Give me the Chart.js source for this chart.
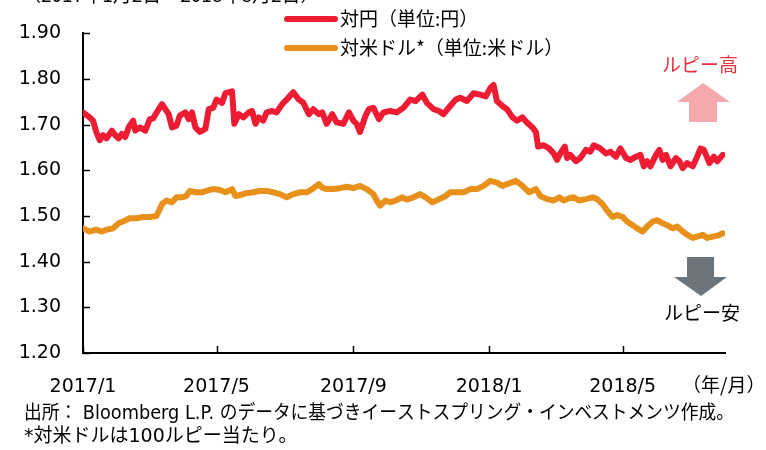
<!DOCTYPE html>
<html>
<head>
<meta charset="utf-8">
<script src="https://cdn.jsdelivr.net/npm/chart.js@4.4.1/dist/chart.umd.min.js"></script>
<style>
  html, body { margin: 0; padding: 0; background: #fff; }
  canvas { display: block; }
</style>
</head>
<body>
<canvas id="rupee" width="766" height="450"></canvas>
<script>
// x = days since 2017/1/2
const jpyDays = [0,6,9,12,15,18,21,26,29,32,35,38,41,45,47,51,56,60,63,68,71,74,77,80,84,87,92,95,98,101,105,110,113,117,120,125,128,134,136,140,144,149,152,155,158,162,165,170,174,179,183,189,194,198,203,207,212,215,219,224,228,234,239,243,246,249,254,257,261,266,270,276,282,288,294,299,305,309,315,320,324,330,335,339,345,351,357,362,366,369,372,377,381,386,390,395,399,404,407,409,414,419,423,426,429,433,435,438,443,447,452,456,459,465,470,474,479,483,488,492,497,501,504,507,510,515,518,521,524,528,533,536,539,543,548,552,555,558,563,567,570,575];
const jpyValues = [1.727,1.716,1.709,1.684,1.666,1.677,1.670,1.687,1.677,1.670,1.680,1.673,1.694,1.709,1.687,1.694,1.687,1.712,1.714,1.734,1.745,1.734,1.723,1.694,1.698,1.720,1.727,1.712,1.727,1.694,1.684,1.691,1.734,1.737,1.755,1.748,1.769,1.773,1.702,1.723,1.716,1.727,1.730,1.702,1.716,1.709,1.727,1.730,1.727,1.745,1.755,1.771,1.755,1.748,1.723,1.734,1.723,1.727,1.702,1.723,1.705,1.702,1.727,1.709,1.702,1.684,1.720,1.734,1.737,1.712,1.727,1.730,1.727,1.737,1.755,1.752,1.766,1.748,1.734,1.730,1.723,1.741,1.755,1.759,1.752,1.769,1.766,1.762,1.780,1.787,1.752,1.741,1.734,1.716,1.709,1.716,1.705,1.694,1.684,1.652,1.655,1.648,1.637,1.623,1.637,1.652,1.627,1.634,1.620,1.627,1.645,1.641,1.655,1.648,1.637,1.641,1.630,1.648,1.627,1.623,1.630,1.634,1.609,1.620,1.609,1.634,1.645,1.623,1.634,1.609,1.627,1.620,1.605,1.616,1.609,1.630,1.648,1.645,1.616,1.630,1.620,1.634];

const usdDays = [0,6,12,17,21,27,32,36,42,48,54,60,66,71,75,80,84,89,93,96,101,107,113,117,123,128,134,137,141,147,153,159,165,171,177,183,189,195,201,206,212,215,219,225,231,237,243,249,255,261,264,267,272,276,281,287,291,297,303,308,314,320,326,330,336,342,348,354,360,366,372,377,381,389,395,401,407,411,417,423,428,432,437,441,446,452,458,462,467,471,476,480,485,489,494,498,503,507,512,516,521,525,530,534,539,543,548,552,557,561,566,570,575];
const usdValues = [1.473,1.466,1.470,1.466,1.470,1.473,1.484,1.488,1.495,1.495,1.498,1.498,1.500,1.526,1.534,1.530,1.541,1.541,1.544,1.555,1.552,1.552,1.557,1.559,1.557,1.552,1.559,1.544,1.546,1.550,1.552,1.555,1.555,1.552,1.548,1.541,1.548,1.552,1.552,1.559,1.570,1.562,1.559,1.559,1.561,1.564,1.561,1.566,1.559,1.548,1.534,1.523,1.534,1.530,1.534,1.541,1.536,1.541,1.548,1.541,1.530,1.537,1.544,1.552,1.552,1.552,1.559,1.559,1.566,1.577,1.573,1.566,1.570,1.577,1.566,1.552,1.559,1.544,1.537,1.534,1.541,1.534,1.539,1.541,1.534,1.537,1.541,1.537,1.526,1.512,1.498,1.502,1.498,1.488,1.480,1.473,1.466,1.477,1.488,1.491,1.484,1.480,1.473,1.477,1.466,1.459,1.452,1.455,1.459,1.452,1.455,1.457,1.462];

const xTickDays = [0, 120, 243, 365, 485];
const xTickLabels = ['2017/1', '2017/5', '2017/9', '2018/1', '2018/5'];
const yTicks = [1.2, 1.3, 1.4, 1.5, 1.6, 1.7, 1.8, 1.9];

const seriesNames = ['対円（単位:円）', '対米ドル*（単位:米ドル）'];
const RED = '#ED1C33';
const ORANGE = '#E8901C';
const FONT = '"DejaVu Sans", "Noto Sans CJK JP", sans-serif';
const JFONT = '"Noto Sans CJK JP", sans-serif';

const toPoints = (xs, ys) => xs.map((d, i) => ({ x: d, y: ys[i] }));

const decor = {
  id: 'decor',
  afterDraw(chart) {
    const { ctx, chartArea: a, scales: { x, y } } = chart;
    ctx.save();

    // inward tick marks
    ctx.strokeStyle = '#000';
    ctx.lineWidth = 1.5;
    yTicks.forEach(v => {
      const py = Math.round(y.getPixelForValue(v)) + 0.5;
      ctx.beginPath(); ctx.moveTo(a.left, py); ctx.lineTo(a.left + 7, py); ctx.stroke();
    });
    xTickDays.forEach(d => {
      const px = Math.round(x.getPixelForValue(d)) + 0.5;
      ctx.beginPath(); ctx.moveTo(px, a.bottom); ctx.lineTo(px, a.bottom - 7); ctx.stroke();
    });

    // title (cut off at top)
    ctx.fillStyle = '#000';
    ctx.font = '19px ' + JFONT;
    ctx.textBaseline = 'alphabetic';
    ctx.textAlign = 'left';
    ctx.fillText('（2017年1月2日～2018年8月2日）', 22, 2);

    // legend
    const legendRows = [[RED, 19], [ORANGE, 48]];
    ctx.lineCap = 'round';
    ctx.lineWidth = 6;
    legendRows.forEach(([c, ly], i) => {
      ctx.strokeStyle = c;
      ctx.beginPath(); ctx.moveTo(287, ly); ctx.lineTo(335, ly); ctx.stroke();
      ctx.fillStyle = '#000';
      ctx.font = '19px ' + JFONT;
      ctx.textBaseline = 'middle';
      ctx.fillText(seriesNames[i], 340, ly);
    });

    // rupee up arrow + label
    ctx.fillStyle = '#E8303F';
    ctx.font = '19px ' + JFONT;
    ctx.textAlign = 'center';
    ctx.fillText('ルピー高', 700, 65);
    ctx.fillStyle = '#F5A7AE';
    ctx.beginPath();
    ctx.moveTo(703, 83); ctx.lineTo(730, 102); ctx.lineTo(717, 102); ctx.lineTo(717, 122);
    ctx.lineTo(689, 122); ctx.lineTo(689, 102); ctx.lineTo(677, 102); ctx.closePath();
    ctx.fill();

    // rupee down arrow + label
    ctx.fillStyle = '#6B757B';
    ctx.beginPath();
    ctx.moveTo(687, 257); ctx.lineTo(714, 257); ctx.lineTo(714, 277); ctx.lineTo(727, 277);
    ctx.lineTo(701, 296); ctx.lineTo(674, 277); ctx.lineTo(687, 277); ctx.closePath();
    ctx.fill();
    ctx.fillStyle = '#000';
    ctx.fillText('ルピー安', 702, 313);

    // axis unit
    ctx.textAlign = 'left';
    ctx.fillText('（年/月）', 682, 385);

    // notes
    ctx.font = '19px ' + FONT;
    ctx.fillText('出所： Bloomberg L.P. のデータに基づきイーストスプリング・インベストメンツ作成。', 24, 414, 710);
    ctx.fillText('*対米ドルは100ルピー当たり。', 24, 437);

    ctx.restore();
  }
};

new Chart(document.getElementById('rupee'), {
  type: 'line',
  data: {
    datasets: [
      { label: seriesNames[0], data: toPoints(jpyDays, jpyValues), borderColor: RED, borderWidth: 6 },
      { label: seriesNames[1], data: toPoints(usdDays, usdValues), borderColor: ORANGE, borderWidth: 6 }
    ]
  },
  options: {
    responsive: false,
    animation: false,
    devicePixelRatio: 1,
    layout: { padding: { left: 0, top: 26, right: 41, bottom: 0 } },
    elements: {
      point: { radius: 0 },
      line: { tension: 0, borderJoinStyle: 'round', borderCapStyle: 'round', fill: false }
    },
    plugins: { legend: { display: false }, tooltip: { enabled: false } },
    scales: {
      x: {
        type: 'linear',
        min: 0,
        max: 577,
        afterFit: s => { s.height = 97; },
        afterBuildTicks: s => { s.ticks = xTickDays.map(v => ({ value: v })); },
        grid: { display: false, drawTicks: false },
        border: { display: true, color: '#000', width: 2 },
        ticks: {
          autoSkip: false,
          maxRotation: 0,
          padding: 23,
          color: '#000',
          font: { family: FONT, size: 19 },
          callback: v => xTickLabels[xTickDays.indexOf(v)] ?? ''
        }
      },
      y: {
        min: 1.2,
        max: 1.9,
        afterFit: s => { s.width = 83; },
        grid: { display: false, drawTicks: false },
        border: { display: true, color: '#000', width: 2 },
        ticks: {
          stepSize: 0.1,
          padding: 22,
          color: '#000',
          font: { family: FONT, size: 19 },
          callback: v => Number(v).toFixed(2)
        }
      }
    }
  },
  plugins: [decor]
});
</script>
</body>
</html>
